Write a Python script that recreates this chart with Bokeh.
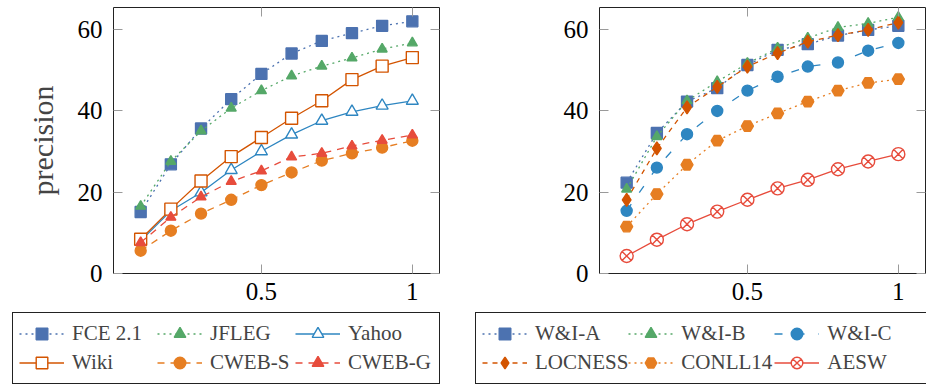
from bokeh.plotting import figure
from bokeh.models import Range1d, FixedTicker, LinearAxis, Legend, LegendItem, CustomJSTickFormatter
from bokeh.layouts import row, column
from bokeh.embed import file_html
from bokeh.resources import INLINE

recall = [0.1, 0.2, 0.3, 0.4, 0.5, 0.6, 0.7, 0.8, 0.9, 1.0]

fce = [15.1, 26.8, 35.6, 42.8, 49.0, 54.0, 57.1, 59.0, 60.8, 61.9]
jfleg = [16.5, 27.5, 35.0, 40.6, 44.9, 48.5, 50.9, 52.9, 55.1, 56.6]
yahoo = [8.0, 15.4, 19.9, 25.4, 30.0, 34.1, 37.5, 39.7, 41.2, 42.4]
wiki = [8.4, 15.8, 22.7, 28.7, 33.4, 38.1, 42.4, 47.6, 50.9, 53.0]
cweb_s = [5.6, 10.5, 14.7, 18.1, 21.7, 24.8, 27.7, 29.5, 30.9, 32.6]
cweb_g = [7.6, 13.8, 18.8, 22.6, 25.2, 28.6, 29.5, 31.3, 32.7, 34.0]

wi_a = [22.3, 34.5, 42.2, 45.5, 51.2, 54.9, 56.3, 58.4, 59.8, 60.8]
wi_b = [20.7, 33.6, 42.4, 47.1, 51.6, 55.3, 57.8, 60.4, 61.4, 62.9]
wi_c = [15.4, 26.0, 34.2, 39.9, 44.9, 48.3, 50.8, 51.8, 54.7, 56.6]
locness = [18.1, 30.7, 40.8, 45.8, 50.8, 54.1, 56.9, 58.5, 59.8, 61.6]
conll14 = [11.5, 19.5, 26.7, 32.6, 36.2, 39.3, 42.2, 44.9, 46.8, 47.7]
aesw = [4.3, 8.3, 12.1, 15.2, 18.1, 20.9, 23.0, 25.6, 27.5, 29.3]

x_ticks = [0.5, 1]
y_ticks = [0, 20, 40, 60]

BLUE1 = "#4C72B0"
GREEN = "#55A868"
BLUE2 = "#2E86C1"
DORANGE = "#D35400"
ORANGE = "#E67E22"
RED = "#E74C3C"

DOT = "2 4"
DASH = "7 6"
LDASH = "8 14"

left_series = [
    ("FCE 2.1", fce, BLUE1, DOT, "square", 11, True),
    ("JFLEG", jfleg, GREEN, DOT, "triangle", 10, True),
    ("Yahoo", yahoo, BLUE2, "solid", "triangle", 12, False),
    ("Wiki", wiki, DORANGE, "solid", "square", 12, False),
    ("CWEB-S", cweb_s, ORANGE, DASH, "circle", 11, True),
    ("CWEB-G", cweb_g, RED, DASH, "triangle", 10, True),
]
right_series = [
    ("W&I-A", wi_a, BLUE1, DOT, "square", 11, True),
    ("W&I-B", wi_b, GREEN, DOT, "triangle", 10, True),
    ("W&I-C", wi_c, BLUE2, LDASH, "circle", 11, True),
    ("LOCNESS", locness, DORANGE, "5 5", "diamond", 13, True),
    ("CONLL14", conll14, ORANGE, DOT, "hex", 12, True),
    ("AESW", aesw, RED, "solid", "circle_x", 13, False),
]

FONT = "Liberation Serif"
TOP_H = 312
LEG_H = 73
TOP = 7
FRAME_H = 266


def draw_series(p, series):
    items = []
    for name, vals, color, dash, marker, size, filled in series:
        ln = p.line(recall, vals, line_color=color, line_width=1.3, line_dash=dash)
        sc = p.scatter(recall, vals, marker=marker, size=size, line_color=color,
                       fill_color=color if filled else "white", line_width=1.4)
        items.append(LegendItem(label=name, renderers=[ln, sc]))
    return items


def make_fig(width, bl, br, series, ylabel):
    p = figure(width=width, height=TOP_H, x_range=Range1d(0.01, 1.09), y_range=Range1d(0, 65.3),
               output_backend="svg", toolbar_location=None,
               min_border_left=bl, min_border_right=br, min_border_top=TOP,
               min_border_bottom=TOP_H - FRAME_H - TOP)
    p.frame_align = False
    p.xgrid.visible = False
    p.ygrid.visible = False
    p.outline_line_color = "#222222"
    p.outline_line_width = 1
    p.outline_line_alpha = 1
    p.background_fill_color = "white"
    p.border_fill_color = "white"

    for ax, ticks in ((p.xaxis[0], x_ticks), (p.yaxis[0], y_ticks)):
        ax.ticker = FixedTicker(ticks=ticks)
        ax.axis_line_color = None
        ax.major_tick_in = 9
        ax.major_tick_out = 0
        ax.major_tick_line_color = "#9a9a9a"
        ax.minor_tick_line_color = None
        ax.major_label_text_font = FONT
        ax.major_label_text_font_size = "25px"
        ax.major_label_text_color = "black"
        ax.major_label_standoff = 11
    p.xaxis[0].major_label_standoff = 9
    p.xaxis[0].major_label_overrides = {0.5: "0.5", 1: "1"}
    if ylabel:
        p.yaxis[0].axis_label = ylabel
        p.yaxis[0].axis_label_text_font = FONT
        p.yaxis[0].axis_label_text_font_size = "30px"
        p.yaxis[0].axis_label_text_font_style = "normal"
        p.yaxis[0].axis_label_standoff = 16

    for loc, ticks in (("right", y_ticks), ("above", x_ticks)):
        ax = LinearAxis(ticker=FixedTicker(ticks=ticks), axis_line_color=None,
                        major_tick_in=9, major_tick_out=0, major_tick_line_color="#9a9a9a",
                        minor_tick_line_color=None,
                        formatter=CustomJSTickFormatter(code="return ''"),
                        major_label_standoff=0)
        p.add_layout(ax, loc)

    draw_series(p, series)
    return p


def make_legend_fig(width, series, leg_x, leg_lw):
    # legend-only figure: same series, drawn outside the visible ranges
    q = figure(width=width, height=LEG_H, x_range=Range1d(5, 6), y_range=Range1d(500, 600),
               output_backend="svg", toolbar_location=None,
               min_border_left=0, min_border_right=0, min_border_top=0, min_border_bottom=0)
    q.frame_align = False
    q.xaxis.visible = False
    q.yaxis.visible = False
    q.xgrid.visible = False
    q.ygrid.visible = False
    q.outline_line_color = None
    q.background_fill_color = "white"
    q.border_fill_color = "white"
    items = draw_series(q, series)
    leg = Legend(items=items, location=(leg_x, 1), orientation="horizontal",
                 ncols=3, glyph_width=45, glyph_height=29, label_height=29,
                 label_width=leg_lw, label_standoff=8, spacing=0, padding=6, margin=0,
                 label_text_font=FONT, label_text_font_size="21px",
                 border_line_color="#222222", border_line_width=1, border_line_alpha=1,
                 background_fill_color="white", background_fill_alpha=1)
    q.add_layout(leg)
    return q


p1 = make_fig(463, 113, 24, left_series, "precision")
p2 = make_fig(463, 136, 1, right_series, None)
l1 = make_legend_fig(463, left_series, 12, 85)
l2 = make_legend_fig(463, right_series, 12, 93)

layout = row(column(p1, l1), column(p2, l2))
open("out.html", "w").write(file_html(layout, INLINE))
